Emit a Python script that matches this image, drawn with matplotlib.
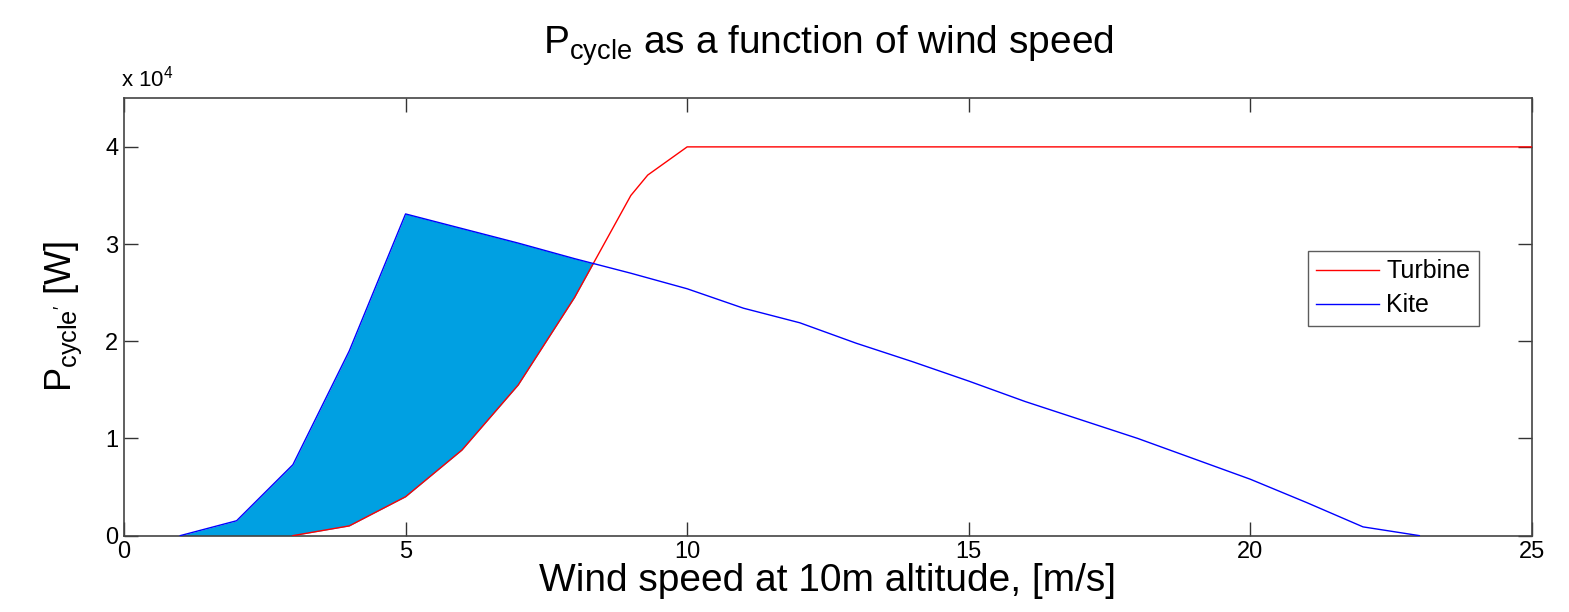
import numpy as np
import matplotlib.pyplot as plt

plt.rcParams['font.family'] = ['Liberation Sans', 'DejaVu Sans']
plt.rcParams['mathtext.fontset'] = 'custom'
plt.rcParams['mathtext.rm'] = 'Liberation Sans'

# 风速 [m/s] 与功率 [W]
kite_speed = [1, 2, 3, 4, 5, 6, 7, 8, 9, 10, 11, 12, 13, 14, 15, 16, 17, 18, 19, 20, 21, 22, 23]
kite_power = [0, 1530, 7300, 19000, 33100, 31600, 30100, 28500, 27000, 25400, 23400, 21900,
              19800, 17900, 15900, 13800, 11900, 10000, 7900, 5800, 3400, 900, 0]

turbine_speed = [3, 4, 5, 6, 7, 8, 9, 9.3, 10, 25]
turbine_power = [0, 1000, 4000, 8800, 15500, 24500, 35000, 37100, 40000, 40000]

x_ticks = [0, 5, 10, 15, 20, 25]
y_ticks = [0, 1, 2, 3, 4]

fig = plt.figure(figsize=(15.69, 6.12), dpi=100)
ax = fig.add_axes([0.079, 0.1248, 0.8974, 0.7146])

ks = np.array(kite_speed, dtype=float)
kp = np.array(kite_power, dtype=float)
tp_on_k = np.interp(ks, turbine_speed, turbine_power, left=0)

# 风筝优于涡轮的区域
ax.fill_between(ks, kp, tp_on_k, where=kp >= tp_on_k, interpolate=True,
                color='#00A0E2', linewidth=0, zorder=1)

l1, = ax.plot(turbine_speed, turbine_power, color='r', linewidth=1.0, label='Turbine', zorder=3)
l2, = ax.plot(kite_speed, kite_power, color='b', linewidth=1.0, label='Kite', zorder=3)

ax.set_xlim(0, 25)
ax.set_ylim(0, 45000)
ax.set_xticks(x_ticks)
ax.set_xticklabels([str(t) for t in x_ticks])
ax.set_yticks([t * 1e4 for t in y_ticks])
ax.set_yticklabels([str(t) for t in y_ticks])
ax.tick_params(direction='in', length=10, width=1, top=True, right=True,
               labelsize=17, pad=4, colors='#333333', labelcolor='black')
for s in ax.spines.values():
    s.set_color('#444444')
    s.set_linewidth(1.2)

ax.text(-0.002, 1.015, r'x 10$^{4}$', transform=ax.transAxes, fontsize=16, ha='left', va='bottom')

ax.set_title(r'P$_{\mathrm{cycle}}$ as a function of wind speed', fontsize=28, pad=32)
ax.set_xlabel('Wind speed at 10m altitude, [m/s]', fontsize=28, labelpad=0)
ax.set_ylabel(r"P$_{\mathrm{cycle'}}$ [W]", fontsize=26, labelpad=15)

leg = ax.legend(handles=[l1, l2], loc='upper right',
                bbox_to_anchor=(1479 / 1569, (612 - 250.7) / 612),
                bbox_transform=fig.transFigure, fontsize=18, frameon=True,
                fancybox=False, borderaxespad=0, handlelength=2.5,
                handletextpad=0.3, labelspacing=0.4, borderpad=0.35)
leg.get_frame().set_edgecolor('#333333')
leg.get_frame().set_linewidth(1.0)

fig.savefig('out.png', dpi=100)
